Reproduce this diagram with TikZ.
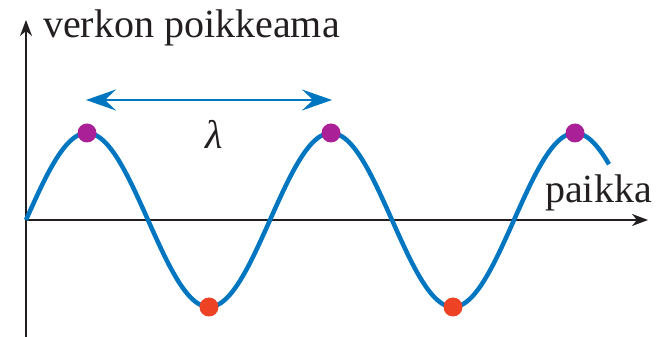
\documentclass[tikz,border=0pt]{standalone}
\usepackage{fontspec}
\setmainfont{Liberation Serif}
\usetikzlibrary{arrows.meta}
\definecolor{waveblue}{RGB}{0,118,192}
\definecolor{peakmag}{RGB}{170,32,150}
\definecolor{troughred}{RGB}{238,66,36}
\definecolor{inkgray}{RGB}{35,31,32}
\begin{document}
\begin{tikzpicture}[x=1pt,y=1pt,
    axis/.style={draw=inkgray, line width=1.8pt, -{Stealth[length=16pt,width=12pt,inset=5pt]}},
    peak/.style={circle, fill=peakmag, inner sep=0pt, minimum size=19pt},
    trough/.style={circle, fill=troughred, inner sep=0pt, minimum size=19pt},
    lbl/.style={text=inkgray, inner sep=0pt, font=\fontsize{40}{48}\selectfont}]
        \useasboundingbox (0,0) rectangle (661,337);

        % Coordinates
        \coordinate (O)    at (26,117);
        \coordinate (ybot) at (26,0);
        \coordinate (ytop) at (26,317);
        \coordinate (xend) at (648,117);
        \coordinate (lamL) at (86,237);
        \coordinate (lamR) at (332,237);

        % Axes
        \draw[axis] (ybot) -- (ytop);
        \draw[axis] (O) -- (xend);

        % Wave
        \draw[waveblue, line width=4.5pt] plot[domain=26:609, samples=160, smooth]
              (\x, {117+87*sin((\x-26)/244*360)});

        % Nodes
        \node (p1) at (87,204)  [peak] {};
        \node (t1) at (209,30)  [trough] {};
        \node (p2) at (331,204) [peak] {};
        \node (t2) at (453,30)  [trough] {};
        \node (p3) at (575,204) [peak] {};
        \node (lam)  at (214,203) [lbl] {\itshape λ};
        \node (ylbl) at (43,299)  [lbl, anchor=base west] {verkon poikkeama};
        \node (xlbl) at (545,134) [lbl, anchor=base west] {paikka};

        % Wavelength
        \draw[waveblue, line width=2.8pt,
              {Stealth[length=30pt,width=21pt,inset=11pt]}-{Stealth[length=30pt,width=21pt,inset=11pt]}]
              (lamL) -- (lamR);
      \end{tikzpicture}
\end{document}
